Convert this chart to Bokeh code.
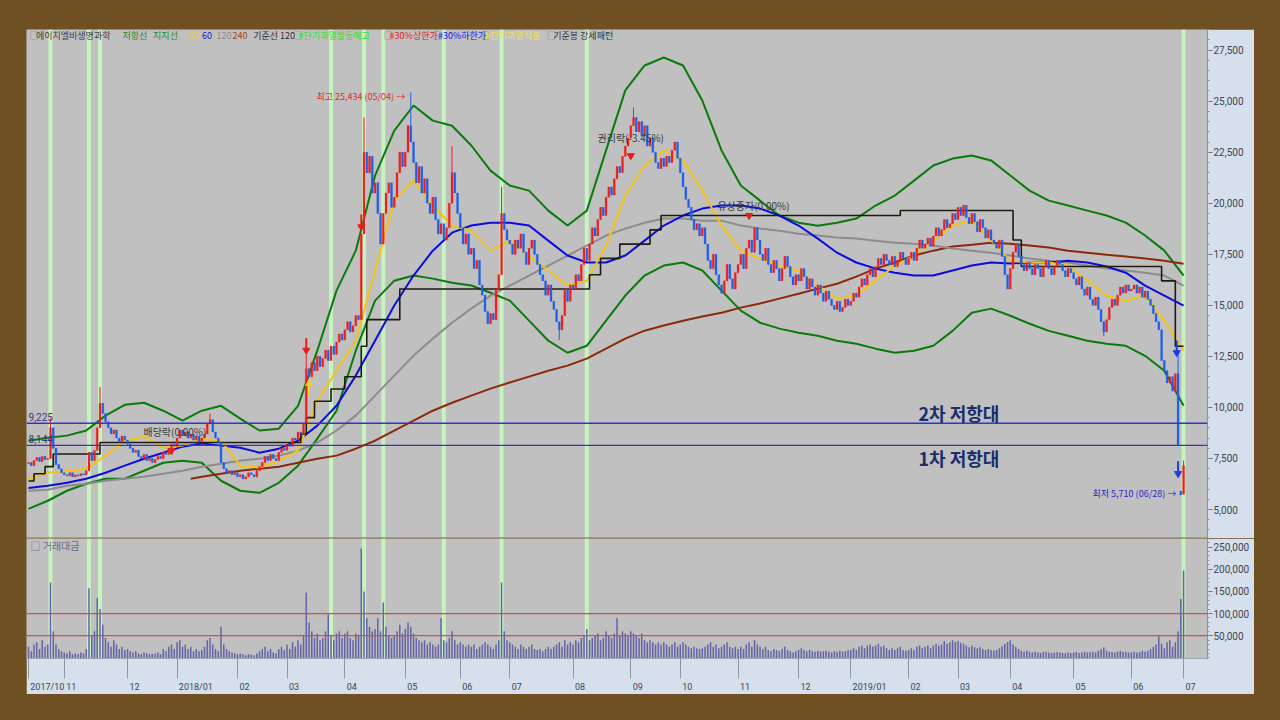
from bokeh.plotting import figure
from bokeh.models import (Range1d, FixedTicker, NumeralTickFormatter, Span, Label,
                          Spacer, GlobalInlineStyleSheet, ColumnDataSource)
from bokeh.layouts import column, row
from bokeh.embed import file_html
from bokeh.resources import INLINE

# ---------------- data (trading-day index 0 = 2017/10 first day) ----------------
CLOSE = [
    # 2017/10
    7300, 7150, 7400, 7550, 7350, 7600, 7450, 7500, 9000, 8000, 7200, 7000, 6800,
    # 11
    6700, 6650, 6800, 6600, 6700, 6650, 6750, 6700, 6900, 7800, 7400, 7900, 9000, 10200,
    9700, 9300, 9000, 8700, 8900, 8500, 8300, 8600, 8400,
    # 12
    8200, 8000, 7800, 7900, 7600, 7500, 7700, 7400, 7500, 7300, 7450, 7600, 7500, 7800,
    7700, 8000, 8200, 8100,
    # 2018/01
    8500, 8900, 8600, 8800, 8500, 8700, 8400, 8600, 8300, 8500, 8700, 9200, 9400, 8800,
    8500, 8300, 7300, 7000, 6800, 6900, 6700, 6800,
    # 02
    6600, 6700, 6500, 6600, 6800, 6700, 6600, 6900, 7100, 7300, 7600, 7400, 7700, 7500,
    7400, 7800, 8000, 7900,
    # 03
    8200, 8100, 8500, 8400, 8800, 8700, 9200, 11900, 11500, 12200, 11800, 12500, 12000,
    12400, 12800, 12300, 13000, 12600, 13200, 13600, 13300,
    # 04
    13800, 14200, 13700, 14000, 14500, 14300, 18500, 22500, 21500, 22300, 20500, 21000,
    19500, 18000, 19500, 20500, 21000, 19800, 20300, 21500, 22500, 21800,
    # 05
    22500, 23800, 23000, 22000, 21000, 21800, 20500, 21200, 20000, 19500, 20300, 19200,
    18500, 19000, 18200, 18800, 20000, 21500, 20500, 19500,
    # 06
    18800, 18000, 18500, 17500, 17800, 16800, 17200, 16000, 15500, 14700, 14100, 14600,
    14300, 15800, 16500, 19500, 18700, 18200,
    # 07
    18000, 17500, 18200, 17800, 18500, 17600, 17000, 17800, 18200, 17500, 17000, 16500,
    16200, 15500, 16000, 15200, 14800, 14200, 13800, 14500, 15800, 15200, 16000,
    # 08
    15800, 16500, 16200, 17000, 17800, 17200, 18000, 18800, 18400, 19200, 19800, 19400,
    20300, 20800, 20400, 21200, 21800, 21500, 22300, 22800, 23200,
    # 09
    23800, 24200, 23500, 24000, 23300, 23800, 22800, 23200, 22500, 22000, 21700, 22200,
    21800, 22300, 22000, 22600, 23000, 22200,
    # 10
    21500, 20800, 20200, 19800, 19200, 18700, 19000, 18400, 18800, 18000, 17200, 16800,
    17500, 16500, 16000, 15600, 16200, 17000, 16300, 15800, 16600,
    # 11
    17000, 17500, 16800, 17800, 18200, 17600, 18800, 18200, 17500, 17200, 17800, 17000,
    16600, 17200, 16800, 16200, 16800, 17400, 16900, 16400, 16000, 16500,
    # 12
    16200, 16800, 16400, 15800, 16300, 15900, 15500, 16000, 15600, 15200, 15700, 15300,
    15000, 14800, 15200, 14700, 14900, 15300, 15000,
    # 2019/01
    15200, 15600, 15400, 15900, 16300, 16000, 16500, 16800, 16400, 16900, 17300, 17000,
    17500, 17200, 17000, 17400, 16900, 17200, 17600, 17300, 17000,
    # 02
    17300, 17600, 17200, 17800, 18200, 17800, 18000, 18300, 17900, 18400, 18800, 18400,
    18700, 19200, 18800, 19000, 19500, 19200,
    # 03
    19800, 19400, 19900, 19300, 19000, 19500, 19100, 18600, 19200, 18800, 18300, 18700,
    18200, 18000, 17800, 18200, 17400, 16500, 15800,
    # 04
    16800, 17600, 18000, 17400, 17000, 16700, 17100, 16800, 16500, 17000, 16800, 16400,
    16900, 17200, 16800, 16500, 16900, 17200, 17000, 16700, 16400, 16800, 16600,
    # 05
    16300, 16000, 16400, 15800, 15500, 15900, 15300, 15000, 15400, 14800, 14200, 13700,
    14300, 14900, 15300, 15000, 15500, 15900, 15600, 16000, 15700,
    # 06
    15800, 16000, 15600, 15900, 15400, 15700, 15300, 15000, 14600, 14200, 13800, 12300,
    11800, 11200, 11500, 10800, 11650, 8160, 5710,
    # 07
    7150,
]

VOLUME = [
    # 2017/10
    25000, 15000, 30000, 35000, 20000, 40000, 25000, 30000, 170000, 60000, 30000, 20000, 15000,
    # 11
    12000, 10000, 15000, 8000, 10000, 9000, 12000, 10000, 20000, 157000, 50000, 60000, 135000,
    110000, 75000, 45000, 35000, 25000, 40000, 30000, 20000, 25000, 18000,
    # 12
    20000, 15000, 12000, 15000, 10000, 8000, 12000, 10000, 8000, 9000, 10000, 12000, 9000, 20000,
    15000, 25000, 30000, 20000,
    # 2018/01
    35000, 40000, 25000, 30000, 20000, 25000, 15000, 20000, 15000, 18000, 25000, 40000, 45000,
    30000, 20000, 15000, 70000, 30000, 20000, 15000, 12000, 10000,
    # 02
    8000, 10000, 8000, 6000, 9000, 7000, 6000, 10000, 15000, 20000, 25000, 15000, 20000, 12000,
    10000, 20000, 25000, 18000,
    # 03
    30000, 20000, 35000, 25000, 40000, 30000, 50000, 147000, 80000, 60000, 45000, 55000, 40000,
    45000, 60000, 100000, 50000, 40000, 55000, 60000, 45000,
    # 04
    55000, 60000, 45000, 40000, 55000, 50000, 247000, 150000, 90000, 70000, 60000, 65000, 90000,
    60000, 125000, 70000, 50000, 45000, 50000, 60000, 75000, 55000,
    # 05
    65000, 80000, 70000, 55000, 45000, 40000, 35000, 40000, 30000, 35000, 30000, 25000, 30000,
    90000, 40000, 35000, 45000, 60000, 40000, 30000,
    # 06
    35000, 30000, 25000, 30000, 25000, 30000, 20000, 25000, 30000, 35000, 30000, 25000, 20000,
    30000, 40000, 170000, 60000, 40000,
    # 07
    35000, 30000, 25000, 20000, 30000, 25000, 20000, 25000, 30000, 20000, 18000, 20000, 15000,
    20000, 25000, 20000, 25000, 30000, 35000, 25000, 40000, 30000, 35000,
    # 08
    30000, 40000, 35000, 45000, 50000, 65000, 40000, 45000, 50000, 55000, 40000, 45000, 60000,
    50000, 45000, 55000, 90000, 50000, 60000, 55000, 50000,
    # 09
    60000, 55000, 50000, 45000, 55000, 40000, 35000, 40000, 35000, 30000, 35000, 30000, 35000,
    30000, 25000, 30000, 35000, 25000,
    # 10
    30000, 35000, 30000, 25000, 22000, 25000, 22000, 20000, 22000, 25000, 30000, 35000, 25000,
    30000, 22000, 25000, 30000, 35000, 25000, 22000, 25000,
    # 11
    20000, 25000, 20000, 30000, 35000, 25000, 40000, 30000, 25000, 20000, 25000, 18000, 15000,
    20000, 18000, 15000, 20000, 25000, 18000, 15000, 12000, 15000,
    # 12
    18000, 22000, 18000, 15000, 18000, 15000, 14000, 16000, 14000, 15000, 16000, 14000, 12000,
    15000, 14000, 16000, 14000, 15000, 17000,
    # 2019/01
    18000, 22000, 18000, 25000, 28000, 22000, 28000, 30000, 25000, 28000, 32000, 25000, 28000,
    22000, 18000, 22000, 18000, 22000, 25000, 18000, 16000,
    # 02
    18000, 22000, 18000, 25000, 28000, 22000, 25000, 28000, 22000, 28000, 32000, 28000, 30000,
    38000, 32000, 35000, 40000, 36000,
    # 03
    38000, 34000, 32000, 28000, 24000, 28000, 24000, 22000, 24000, 20000, 18000, 20000, 18000,
    16000, 18000, 22000, 26000, 32000, 36000,
    # 04
    40000, 30000, 25000, 20000, 16000, 14000, 16000, 14000, 12000, 14000, 12000, 11000, 13000,
    14000, 12000, 11000, 12000, 13000, 12000, 11000, 10000, 12000, 11000,
    # 05
    12000, 13000, 11000, 12000, 14000, 12000, 13000, 14000, 12000, 16000, 20000, 24000, 16000,
    14000, 13000, 12000, 14000, 16000, 13000, 14000, 12000,
    # 06
    12000, 14000, 12000, 13000, 16000, 14000, 16000, 20000, 25000, 30000, 48000, 32000, 22000,
    35000, 40000, 25000, 35000, 60000, 133000,
    # 07
    197000,
]

OPEN_FIRST = 7250
OPEN_GAP = {419: 5900, 420: 5750}
HIGH_SPIKE = {8: 9500, 26: 11000, 66: 9700, 101: 12600, 122: 24200, 139: 25434,
              154: 22800, 172: 20800, 220: 24700, 418: 12700, 420: 7400}
LOW_SPIKE = {419: 5710, 193: 13300, 391: 13500}

# indicator lines, read every 7 trading days
IND_X = list(range(0, 421, 7))
BB_UP = [8370, 8520, 8620, 8870, 9600, 10130, 10230, 9840, 9350, 9840, 10080, 9450, 8870, 8960,
         10080, 12780, 15720, 17680, 21350, 23560, 24790, 24050, 23800, 22830, 21600, 20870,
         20620, 19640, 18910, 19640, 22590, 25530, 26750, 27140, 26750, 25030, 22590, 20870,
         20130, 19400, 19050, 18900, 19050, 19250, 19890, 20380, 21110, 21850, 22190, 22340,
         22100, 21360, 20620, 20130, 19890, 19640, 19400, 19050, 18420, 17680, 16460]
BB_LO = [5030, 5430, 5920, 6260, 6510, 6510, 6900, 7290, 7390, 7290, 6410, 5920, 5820, 6310,
         7150, 8470, 9840, 12780, 15230, 16210, 16460, 16310, 16110, 15970, 15620, 15230, 14250,
         13270, 12680, 13020, 14250, 15480, 16460, 16950, 17100, 16710, 15720, 14740, 14150,
         13860, 13660, 13510, 13270, 13120, 12880, 12680, 12780, 13020, 13750, 14640, 14840,
         14490, 14100, 13750, 13510, 13270, 13120, 13020, 12530, 11800, 10080]
MA20 = [6510, 6800, 6900, 7000, 7640, 8370, 8570, 8030, 8130, 8470, 8370, 7150, 7050, 7390,
        7880, 10330, 11800, 13270, 16710, 20130, 21110, 19890, 18910, 18660, 17680, 18170, 17440,
        16710, 15970, 16210, 17930, 20380, 21850, 22590, 22100, 20620, 18910, 17680, 17290, 16950,
        16710, 15970, 15330, 15480, 16210, 16950, 17440, 18170, 18910, 19150, 18170, 17190, 17100,
        17100, 16950, 16210, 15480, 15230, 15480, 14250, 12780]
MA60 = [6060, 6160, 6310, 6510, 6800, 7150, 7490, 7780, 8080, 8230, 8130, 8030, 7780, 7980,
        8370, 9110, 10080, 11560, 13270, 14990, 16460, 17680, 18560, 18910, 19050, 19050, 18910,
        18170, 17440, 17100, 17100, 17440, 18170, 18910, 19400, 19740, 19890, 19890, 19740, 19400,
        18910, 18270, 17580, 17100, 16800, 16600, 16460, 16460, 16710, 16950, 17100, 17050, 17100,
        17100, 17190, 17100, 16900, 16600, 15970, 15480, 14990]
MA120 = [5920, 5970, 6160, 6260, 6410, 6510, 6610, 6750, 6900, 7100, 7240, 7390, 7490, 7640,
         7880, 8280, 8870, 9600, 10580, 11560, 12540, 13370, 14150, 14840, 15480, 15970, 16460,
         16950, 17440, 17930, 18420, 18760, 19050, 19250, 19250, 19150, 19150, 18910, 18760,
         18660, 18510, 18420, 18320, 18270, 18170, 18070, 18020, 17930, 17780, 17680, 17580,
         17440, 17290, 17190, 17100, 16950, 16800, 16710, 16600, 16460, 15970]
MA240_X = [59] + list(range(63, 421, 7))
MA240 = [6510, 6610, 6750, 6900, 7000, 7100, 7290, 7490, 7640, 7980, 8370, 8870, 9350, 9840,
         10230, 10580, 10920, 11220, 11510, 11800, 12050, 12390, 12880, 13370, 13760, 14010,
         14250, 14450, 14640, 14890, 15090, 15330, 15570, 15820, 16060, 16410, 16800, 17100,
         17440, 17680, 17880, 17970, 18070, 18020, 17930, 17830, 17680, 17580, 17480, 17390,
         17290, 17190, 17040]
BASE_X = [0, 2, 6, 9, 26, 99, 101, 104, 110, 115, 121, 123, 135, 204, 208, 215, 226, 230,
          317, 358, 361, 412, 417, 420]
BASE_Y = [6400, 6750, 7100, 7720, 8280, 8700, 9500, 10300, 10900, 11500, 13000, 14300, 15800,
          16500, 17300, 18000, 18700, 19400, 19650, 18200, 16900, 16200, 13000, 13000]

RESIST = [9225, 8144]
OVERHEAT_DAYS = [8, 22, 26, 110, 122, 129, 151, 172, 203, 420]
UPLIMIT_X = [101, 121]
UPLIMIT_Y = [12800, 18850]
DOWNLIMIT_X = [417.5, 418]
DOWNLIMIT_Y = [12680, 6760]
EVENT_X = [52, 219, 262]
EVENT_Y = [7880, 22330, 19400]
COOL_X = [102]
COOL_Y = [11170]

MONTH_IDX = [0, 13, 36, 54, 76, 94, 115, 137, 157, 175, 198, 219, 237, 258, 280, 299, 320,
             338, 357, 380, 401, 420]
MONTH_LBL = ["2017/10", "11", "12", "2018/01", "02", "03", "04", "05", "06", "07", "08", "09",
             "10", "11", "12", "2019/01", "02", "03", "04", "05", "06", "07"]
PRICE_TICKS = [5000, 7500, 10000, 12500, 15000, 17500, 20000, 22500, 25000, 27500]
VOL_TICKS = [50000, 100000, 150000, 200000, 250000]
VOL_LINES = [100000, 50000]

# ---------------- styling ----------------
KFONT = "Noto Sans CJK KR"
NFONT = "Roboto"
BG = "#c0c0c0"
STRIP = "#d6e0ec"
BROWN = "#6e5022"
UP_C = "#f01e1e"
DN_C = "#1e5fe6"
PX_PER_DAY = 2.75

n = len(CLOSE)
IDX = list(range(n))
OPEN = [OPEN_FIRST] + CLOSE[:-1]
for k, val in OPEN_GAP.items():
    OPEN[k] = val
HIGH = [max(o, c) for o, c in zip(OPEN, CLOSE)]
LOW = [min(o, c) for o, c in zip(OPEN, CLOSE)]
for k, val in HIGH_SPIKE.items():
    HIGH[k] = val
for k, val in LOW_SPIKE.items():
    LOW[k] = val
COLORS = [UP_C if c >= o else DN_C for o, c in zip(OPEN, CLOSE)]
src = ColumnDataSource(dict(x=IDX, h=HIGH, l=LOW,
                            top=[max(o, c) for o, c in zip(OPEN, CLOSE)],
                            bot=[min(o, c) for o, c in zip(OPEN, CLOSE)],
                            color=COLORS, vol=VOLUME))

X0, X1 = -0.73, 428.7
P0, P1 = 3581, 28512
V0, V1 = -1400, 269300
PPX = (P1 - P0) / 509.0
VPX = (V1 - V0) / 136.0


def style_axis(ax):
    ax.axis_line_color = "#8a94a0"
    ax.major_tick_line_color = "#6a7480"
    ax.minor_tick_line_color = "#8a94a0"
    ax.major_tick_out = 5
    ax.major_tick_in = 0
    ax.minor_tick_out = 2
    ax.minor_tick_in = 0
    ax.major_label_text_font = NFONT
    ax.major_label_text_font_size = "10px"
    ax.major_label_text_color = "#3c4450"
    ax.major_label_standoff = 1
    ax.formatter = NumeralTickFormatter(format="0,0")


def bands(fig):
    for d in OVERHEAT_DAYS:
        fig.add_layout(Span(location=d, dimension="height", line_color="#c6f3be",
                            line_width=4, level="underlay"))


# ---------------- price figure ----------------
p = figure(width=1228, height=509, x_range=Range1d(X0, X1), y_range=Range1d(P0, P1),
           output_backend="svg", toolbar_location=None, y_axis_location="right",
           x_axis_location=None, min_border_left=0, min_border_top=0, min_border_bottom=0,
           min_border_right=47, background_fill_color=BG, border_fill_color=STRIP,
           outline_line_color=None)
p.grid.visible = False
style_axis(p.yaxis[0])
p.yaxis[0].ticker = FixedTicker(ticks=PRICE_TICKS,
                                minor_ticks=list(range(3500, 28600, 500)))
bands(p)
p.add_layout(Span(location=P0 + 0.6 * PPX, dimension="width", line_color="#9c9c9c",
                  line_width=2))
for r in RESIST:
    p.add_layout(Span(location=r, dimension="width", line_color="#3434c8", line_width=1.3))

# indicators
p.line(IND_X, BB_UP, line_color="#0a7a0a", line_width=2)
p.line(IND_X, BB_LO, line_color="#0a7a0a", line_width=2)
p.line(MA240_X, MA240, line_color="#8a2a08", line_width=2)
p.line(IND_X, MA120, line_color="#8c8c8c", line_width=2)
p.line(IND_X, MA60, line_color="#0c0cdc", line_width=2)
p.line(IND_X, MA20, line_color="#f2c418", line_width=2)
p.step(BASE_X, BASE_Y, mode="after", line_color="#1c1c10", line_width=1.6)

# candles
p.segment(x0="x", y0="l", x1="x", y1="h", line_color="color", line_width=1, source=src)
p.vbar(x="x", width=0.7, top="top", bottom="bot", fill_color="color", line_color="color",
       line_width=0.3, source=src)

# markers
p.segment(x0=UPLIMIT_X, y0=[y + 600 for y in UPLIMIT_Y], x1=UPLIMIT_X, y1=UPLIMIT_Y,
          line_color="#e81c1c", line_width=2)
p.scatter(UPLIMIT_X, UPLIMIT_Y, marker="inverted_triangle", size=7, color="#e81c1c")
p.segment(x0=DOWNLIMIT_X, y0=[y + 600 for y in DOWNLIMIT_Y], x1=DOWNLIMIT_X, y1=DOWNLIMIT_Y,
          line_color="#1c3ce8", line_width=2)
p.scatter(DOWNLIMIT_X, DOWNLIMIT_Y, marker="inverted_triangle", size=7, color="#1c3ce8")
p.scatter(EVENT_X, EVENT_Y, marker="inverted_triangle", size=7, color="#e81c1c")
p.segment(x0=COOL_X, y0=[y - 600 for y in COOL_Y], x1=COOL_X, y1=COOL_Y,
          line_color="#f0d020", line_width=2)
p.scatter(COOL_X, COOL_Y, marker="triangle", size=7, color="#f0d020")


def lab(fig, x, y, text, color, size="9px", font=KFONT, style="normal", **kw):
    fig.add_layout(Label(x=x, y=y, text=text, text_color=color, text_font=font,
                         text_font_size=size, text_font_style=style,
                         text_baseline=kw.pop("baseline", "middle"),
                         text_align=kw.pop("align", "left"), **kw))


# header legend
HY = P1 - 6 * PPX
header = [(0.36, "□", "#707070"), (2.7, "에이치엘비생명과학", "#3c3c3c"),
          (34.2, "저항선", "#248a24"), (45.3, "지지선", "#248a24"),
          (58.5, "20", "#e6d24a"), (63.1, "60", "#2020c0"), (68.4, "120", "#8a8a8a"),
          (74.2, "240", "#a04020"), (81.7, "기준선 120", "#303030"),
          (96.3, "□", "#707070"), (98.2, "#단기과열발동예고", "#2ee02e"),
          (129.1, "□", "#707070"), (131.3, "#30%상한가", "#e02020"),
          (146.9, "□", "#707070"), (148.9, "#30%하한가", "#2020e0"),
          (164.4, "□", "#707070"), (166.2, "#단기과열적출", "#f2e040"),
          (188.5, "□", "#707070"), (190.8, "기준봉 강세패턴", "#303030")]
for x, t, c in header:
    lab(p, x, HY, t, c)

lab(p, 104.7, 25230, "최고 25,434 (05/04) →", "#e8262a")
lab(p, 386.9, 5785, "최저 5,710 (06/28) →", "#2828c8")
lab(p, 41.8, 8822, "배당락(0.00%)", "#3a3a3a", size="10px")
lab(p, 206.9, 23222, "권리락(-3.45%)", "#3a3a3a", size="10px")
lab(p, 250.5, 19891, "유상증자(0.00%)", "#3a3a3a", size="10px")
lab(p, 323.6, 9752, "2차 저항대", "#1b2d6b", size="18px", style="bold")
lab(p, 323.6, 7500, "1차 저항대", "#1b2d6b", size="18px", style="bold")
lab(p, 0.0, 9556, "9,225", "#3a3a7a", size="10px", font=NFONT)
lab(p, 0.0, 8478, "8,144", "#3a3a7a", size="10px", font=NFONT)

# ---------------- volume figure ----------------
v = figure(width=1228, height=156, x_range=p.x_range, y_range=Range1d(V0, V1),
           output_backend="svg", toolbar_location=None, y_axis_location="right",
           x_axis_location="below", min_border_left=0, min_border_top=0,
           min_border_bottom=20, min_border_right=47, background_fill_color=BG,
           border_fill_color=STRIP, outline_line_color=None)
v.grid.visible = False
style_axis(v.yaxis[0])
v.yaxis[0].ticker = FixedTicker(ticks=VOL_TICKS, minor_ticks=list(range(0, 270001, 10000)))
bands(v)
for r in VOL_LINES:
    v.add_layout(Span(location=r, dimension="width", line_color="#e04848", line_width=1.2))
v.vbar(x="x", width=0.55, top="vol", bottom=0, fill_color="#6464a8", line_color=None,
       source=src)


def label_width(t):
    return sum(5.0 if ch.isdigit() else 3.7 for ch in t)


# month labels: text sits just right of the month separator (minor tick)
LBL_POS = [m + (2 + label_width(t) / 2) / PX_PER_DAY for m, t in zip(MONTH_IDX, MONTH_LBL)]
xa = v.xaxis[0]
xa.ticker = FixedTicker(ticks=LBL_POS, minor_ticks=MONTH_IDX)
xa.major_label_overrides = {pos: t for pos, t in zip(LBL_POS, MONTH_LBL)}
xa.axis_line_color = "#9aa4ae"
xa.major_tick_out = 0
xa.major_tick_in = 0
xa.minor_tick_line_color = "#8c96a0"
xa.minor_tick_out = 20
xa.minor_tick_in = 0
xa.major_label_standoff = 3
xa.major_label_text_font = NFONT
xa.major_label_text_font_size = "9px"
xa.major_label_text_color = "#3c4450"

lab(v, 0.7, V1 - 8 * VPX, "□ 거래대금", "#6a6a8c", size="10px")

root = row(Spacer(width=26, height=10),
           column(Spacer(width=10, height=29), p, v),
           stylesheets=[GlobalInlineStyleSheet(css="body { background-color: %s; }" % BROWN)])

open("out.html", "w").write(file_html(root, INLINE))
